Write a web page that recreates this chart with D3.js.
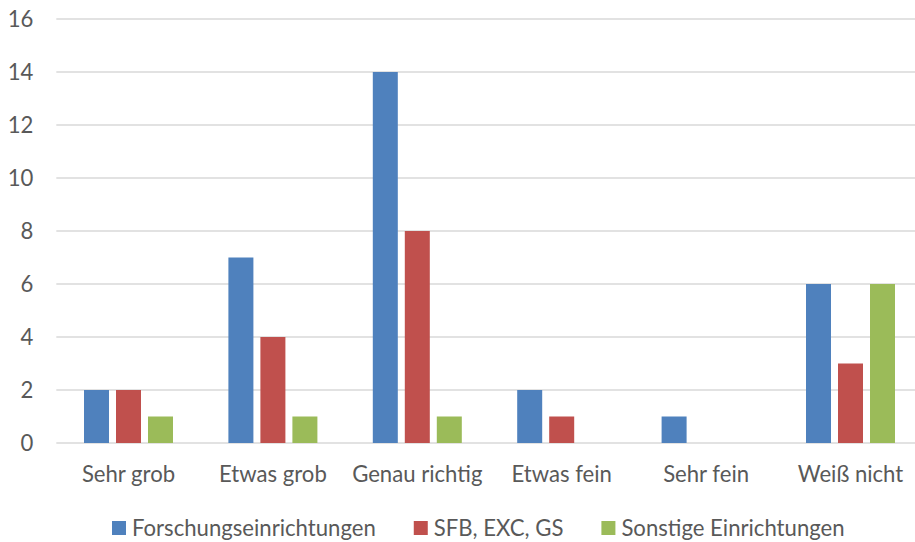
<!DOCTYPE html>
<html>
<head>
<meta charset="utf-8">
<script src="https://cdn.jsdelivr.net/npm/d3@7/dist/d3.min.js"></script>
<style>
  html, body { margin: 0; padding: 0; background: #fff; }
  svg { display: block; }
  text { font-family: Lato, "Open Sans", sans-serif; fill: #595959; }
</style>
</head>
<body>
<svg id="chart" width="915" height="542"></svg>
<script>
const categories = ["Sehr grob", "Etwas grob", "Genau richtig", "Etwas fein", "Sehr fein", "Weiß nicht"];
const seriesNames = ["Forschungseinrichtungen", "SFB, EXC, GS", "Sonstige Einrichtungen"];
const forschung = [2, 7, 14, 2, 1, 6];
const sfb = [2, 4, 8, 1, 0, 3];
const sonstige = [1, 1, 1, 0, 0, 6];
const yTicks = [0, 2, 4, 6, 8, 10, 12, 14, 16];
const colors = ["#4F81BD", "#C0504D", "#9BBB59"];

const seriesValues = [forschung, sfb, sonstige];

const svg = d3.select("#chart");
const W = 915, H = 542;

// Fit font size so text width resembles the reference typography
const probe = svg.append("text").attr("font-size", 24).text("Forschungseinrichtungen");
const w24 = probe.node().getComputedTextLength();
probe.remove();
const fs = Math.min(24, 24 * 244 / w24);

const x = d3.scaleBand().domain(categories).range([56.3, 922.7]).padding(0);
const y = d3.scaleLinear().domain([0, 16]).range([443, 19]);
const xs = d3.scaleBand().domain(seriesNames).range([0, 89]).paddingInner(7 / 32).paddingOuter(0);

// gridlines
svg.append("g")
  .selectAll("line")
  .data(yTicks)
  .join("line")
  .attr("x1", 56.3).attr("x2", W)
  .attr("y1", d => y(d)).attr("y2", d => y(d))
  .attr("stroke", "#d9d9d9").attr("stroke-width", 1.3);

// y axis labels
const yAxis = d3.axisLeft(y).tickValues(yTicks).tickSize(0).tickPadding(23);
const gy = svg.append("g").attr("transform", "translate(56.3,0)").call(yAxis);
gy.select(".domain").remove();
gy.selectAll("text").attr("font-size", fs).attr("fill", "#595959")
  .style("font-family", "Lato, 'Open Sans', sans-serif");

// bars
const groups = svg.append("g").selectAll("g")
  .data(categories)
  .join("g")
  .attr("transform", d => `translate(${x(d) + x.bandwidth() / 2 - 44.5},0)`);

groups.selectAll("rect")
  .data((c, i) => seriesNames.map((s, j) => ({ s, v: seriesValues[j][i], j })))
  .join("rect")
  .attr("x", d => xs(d.s))
  .attr("width", xs.bandwidth())
  .attr("y", d => y(d.v))
  .attr("height", d => y(0) - y(d.v))
  .attr("fill", d => colors[d.j]);

// x axis labels
const xAxis = d3.axisBottom(x).tickSize(0).tickPadding(0);
const gx = svg.append("g").attr("transform", "translate(0,443)").call(xAxis);
gx.select(".domain").remove();
gx.selectAll("text")
  .attr("font-size", fs).attr("fill", "#595959")
  .attr("dy", null).attr("y", 39)
  .style("font-family", "Lato, 'Open Sans', sans-serif");

// legend
const legend = svg.append("g");
let lx = 112;
seriesNames.forEach((s, j) => {
  legend.append("rect").attr("x", lx).attr("y", 521).attr("width", 14).attr("height", 14).attr("fill", colors[j]);
  const t = legend.append("text").attr("x", lx + 20).attr("y", 536).attr("font-size", fs).text(s);
  lx += 20 + t.node().getComputedTextLength() + 38;
});
</script>
</body>
</html>
